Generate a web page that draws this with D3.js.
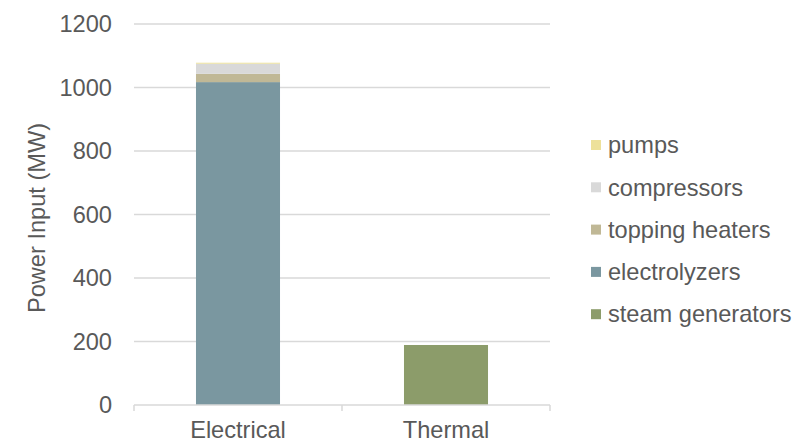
<!DOCTYPE html>
<html><head><meta charset="utf-8">
<script src="https://cdn.jsdelivr.net/npm/d3@7/dist/d3.min.js"></script>
<style>
html,body{margin:0;padding:0;background:#fff;}
svg{display:block;font-family:"Liberation Sans",Arial,sans-serif;}
</style></head>
<body><svg id="c" width="798" height="442"></svg>
<script>
const categories = ["Electrical", "Thermal"];
const seriesNames = ["steam generators", "electrolyzers", "topping heaters", "compressors", "pumps"];
const steamGenerators = [0, 189];
const electrolyzers = [1017, 0];
const toppingHeaters = [26, 0];
const compressors = [32, 0];
const pumps = [3, 0];
const yTicks = [0, 200, 400, 600, 800, 1000, 1200];
const colors = ["#8c9c6a", "#7a97a0", "#c0b896", "#d9d9d9", "#ede19a"];
const legendOrder = ["pumps", "compressors", "topping heaters", "electrolyzers", "steam generators"];

const seriesValues = [steamGenerators, electrolyzers, toppingHeaters, compressors, pumps];
const rows = categories.map((c, i) => {
  const r = {cat: c};
  seriesNames.forEach((s, j) => r[s] = seriesValues[j][i]);
  return r;
});

const svg = d3.select("#c");
const pL = 134, pR = 550, pT = 24, pB = 405;
const x = d3.scaleBand().domain(categories).range([pL, pR]).paddingInner(0.596).paddingOuter(0.298);
const y = d3.scaleLinear().domain([0, 1200]).range([pB, pT]);
const color = d3.scaleOrdinal().domain(seriesNames).range(colors);
const textColor = "#595959";
const fs = 23.6;

// gridlines
svg.append("g").selectAll("line").data(yTicks.filter(t => t > 0)).join("line")
  .attr("x1", pL).attr("x2", pR)
  .attr("y1", d => y(d)).attr("y2", d => y(d))
  .attr("stroke", "#d9d9d9").attr("stroke-width", 1.5);

// y labels
svg.append("g").selectAll("text").data(yTicks).join("text")
  .attr("x", 112).attr("y", d => y(d)).attr("dy", "0.35em")
  .attr("text-anchor", "end").attr("font-size", fs).attr("fill", textColor)
  .text(d => d);

// bars
const stack = d3.stack().keys(seriesNames)(rows);
svg.append("g").selectAll("g").data(stack).join("g")
  .attr("fill", d => color(d.key))
  .selectAll("rect").data(d => d).join("rect")
  .attr("x", d => x(d.data.cat)).attr("width", x.bandwidth())
  .attr("y", d => y(d[1])).attr("height", d => y(d[0]) - y(d[1]));

// x axis
const xAxis = svg.append("g");
xAxis.append("line").attr("x1", pL).attr("x2", pR).attr("y1", pB).attr("y2", pB)
  .attr("stroke", "#d9d9d9").attr("stroke-width", 1.5);
const bounds = [pL, pL + x.step(), pR];
xAxis.selectAll("line.t").data(bounds).join("line").attr("class", "t")
  .attr("x1", d => d).attr("x2", d => d).attr("y1", pB).attr("y2", pB + 6)
  .attr("stroke", "#d9d9d9").attr("stroke-width", 1.5);
xAxis.selectAll("text").data(categories).join("text")
  .attr("x", d => x(d) + x.bandwidth() / 2).attr("y", 438)
  .attr("text-anchor", "middle").attr("font-size", fs).attr("fill", textColor)
  .text(d => d);

// y title
svg.append("text").attr("transform", `translate(45,218) rotate(-90)`)
  .attr("text-anchor", "middle").attr("font-size", fs).attr("fill", textColor)
  .text("Power Input (MW)");

// legend
const lg = svg.append("g").selectAll("g").data(legendOrder).join("g")
  .attr("transform", (d, i) => `translate(591,${145 + i * 42.3})`);
lg.append("rect").attr("x", 0).attr("y", -5).attr("width", 10).attr("height", 10)
  .attr("fill", d => color(d));
lg.append("text").attr("x", 17).attr("y", 0).attr("dy", "0.35em")
  .attr("font-size", fs).attr("fill", textColor).text(d => d);
</script></body></html>
